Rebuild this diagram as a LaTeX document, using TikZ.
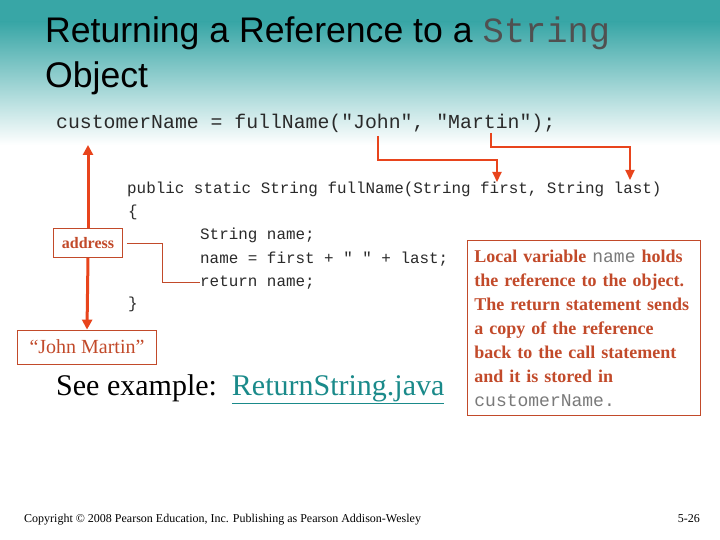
\documentclass[tikz,border=0pt]{standalone}
\usepackage{fontspec}
\setmainfont{Liberation Serif}
\setsansfont{Liberation Sans}
\setmonofont{Liberation Mono}
\usepackage{xcolor}
\usepackage{tikz}
\usetikzlibrary{positioning, arrows.meta, calc}
\definecolor{slideteal}{HTML}{38A6A6}
\definecolor{linkteal}{HTML}{1A8A8A}
\definecolor{callred}{HTML}{E8441C}
\definecolor{notebrown}{HTML}{C24A2A}
\definecolor{codegray}{HTML}{7A7A7A}
\definecolor{titlegray}{HTML}{505050}
\definecolor{codeink}{HTML}{2A2A2A}

\begin{document}
\begin{tikzpicture}[x=1pt, y=-1pt,
    textline/.style={anchor=base west, inner sep=0pt},
    codeline/.style={textline, text=codeink, font=\ttfamily\fontsize{15.9}{18}\selectfont},
    valuebox/.style={draw=notebrown, text=notebrown, line width=0.8pt, inner sep=0pt},
    callarrow/.style={callred, line width=2pt, -{Triangle[length=10pt, width=9pt]}},
    refarrow/.style={callred, line width=3pt, -{Triangle[length=10pt, width=10pt]}}]
    \useasboundingbox (0,0) rectangle (720,540);
    \fill[white] (0,0) rectangle (720,540);
    \fill[slideteal] (0,0) rectangle (720,22);
    \shade[top color=slideteal, bottom color=white] (0,22) rectangle (720,145);

    % title
    \node[textline, font=\sffamily\fontsize{35.6}{40}\selectfont] (title) at (45,43)
      {Returning a Reference to a {\ttfamily\fontsize{35.4}{40}\selectfont\color{titlegray}String}};
    \node[textline, font=\sffamily\fontsize{35.6}{40}\selectfont] (title2) at (45,88) {Object};

    % the call
    \node[textline, text=codeink, font=\ttfamily\fontsize{19.8}{22}\selectfont] (call) at (56,129)
      {customerName = fullName("John", "Martin");};
    \coordinate (john) at (378,136);
    \coordinate (martin) at (491,133);
    \coordinate (first) at (497,182);
    \coordinate (last) at (630,180);
    \coordinate (target) at (88,145);

    % the method
    \node[codeline] (head) at (127,194) {public static String fullName(String first, String last)};
    \node[codeline] (open) at (128,217) {\{};
    \node[codeline] (decl) at (200,240) {String name;};
    \node[codeline] (join) at (200,263) {name = first + " " + last;};
    \node[codeline] (ret) at (200,286) {return name;};
    \node[codeline] (close) at (128,308) {\}};

    % reference boxes
    \node[valuebox, minimum width=69pt, minimum height=29pt, font=\bfseries\fontsize{16}{18}\selectfont] (addr) at (88,243) {address};
    \node[valuebox, minimum width=139pt, minimum height=34pt, font=\fontsize{20}{22}\selectfont] (value) at (87,347) {``John Martin''};

    \draw[callarrow] (john) -- (john |- 0,160) -| (first);
    \draw[callarrow] (martin) -- (martin |- 0,147) -| (last);
    \draw[refarrow] (addr.north) -- (target);
    \draw[refarrow] (addr.south) -- (value.north);
    \draw[notebrown, line width=0.8pt] ($(addr.east)+(4,0)$) -- (162,243) |- (ret.west);

    % example link
    \node[textline, font=\fontsize{30}{32}\selectfont] (see) at (56,395)
      {See example:\ \ {\color{linkteal}\underline{ReturnString.java}}};

    % note
    \node[valuebox, anchor=north west, text width=219pt, minimum height=175pt, inner xsep=7pt, inner ysep=5pt,
      align=left, font=\bfseries\fontsize{18}{24}\selectfont] (note) at (467,240)
      {Local variable {\mdseries\ttfamily\color{codegray}name} holds\\
       the reference to the object.\\
       The return statement sends\\
       a copy of the reference\\
       back to the call statement\\
       and it is stored in\\
       {\mdseries\ttfamily\color{codegray}customerName.}};

    % footer
    \node[textline, font=\fontsize{12}{14}\selectfont] (copy) at (24,522)
      {Copyright \textcopyright{} 2008 Pearson Education, Inc. Publishing as Pearson Addison-Wesley};
    \node[anchor=base east, inner sep=0pt, font=\fontsize{12}{14}\selectfont] (page) at (700,522) {5-26};
  \end{tikzpicture}
\end{document}
